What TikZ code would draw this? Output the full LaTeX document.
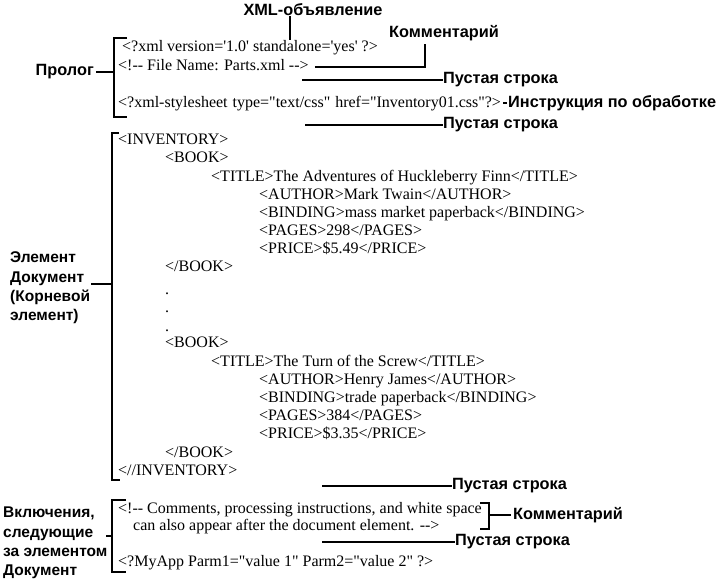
\documentclass[tikz,border=0pt]{standalone}
\usepackage{fontspec}
\setmainfont{Liberation Sans}
\newfontfamily\xmlfont{Liberation Serif}[Ligatures=TeXOff]
\usepackage{tikz}

\begin{document}
\begin{tikzpicture}[x=1pt, y=-1pt,
  code/.style={anchor=west, inner sep=0pt, font=\xmlfont\fontsize{16}{18}\selectfont, text height=11pt, text depth=3pt},
  dotrow/.style={code, text height=2pt, text depth=0pt},
  lbl/.style={anchor=west, inner sep=0pt, font=\bfseries\fontsize{16.3}{19.3}\selectfont, align=left},
  sidelbl/.style={lbl, font=\bfseries\fontsize{15.5}{19.3}\selectfont},
  brk/.style={line width=1.7pt},
  lead/.style={line width=1.7pt}]
  \useasboundingbox (0,0) rectangle (722,583);

  % prolog
  \node[code] (decl) at (122,48) {<?xml version='1.0' standalone='yes' ?>};
  \node[code] (cmnt) at (118,67) {<!-- File Name: Parts.xml -->};
  \node[code] (pi) at (118,103) {<?xml-stylesheet\hspace{5pt}type="text/css"\hspace{5pt}href="Inventory01.css"?>};
  \coordinate (prtop) at (114,38);
  \coordinate (prbot) at (114,117);
  \draw[brk] ([xshift=13pt]prtop) -- (prtop) -- (prbot) -- ([xshift=13pt]prbot);
  \node[sidelbl, anchor=east, font=\bfseries\fontsize{16.3}{19.3}\selectfont] (prolog) at (94,72) {Пролог};
  \draw[lead] ([xshift=2pt]prolog.east) -- (prolog.east -| prtop);

  % callouts on the prolog
  \node[lbl, anchor=center] (xmldecl) at (313,10) {XML-объявление};
  \coordinate (declpt) at (290,40);
  \draw[lead] (declpt |- xmldecl.south) -- (declpt);
  \node[lbl] (cmntlbl) at (389,33) {Комментарий};
  \coordinate (cmntbend) at (425,44);
  \draw[lead] ([xshift=6pt]cmnt.east) -| (cmntbend);
  \node[lbl] (blank1lbl) at (443,80) {Пустая строка};
  \coordinate (blank1) at (302,80);
  \draw[lead] (blank1) -- (blank1lbl.west);
  \node[lbl] (pilbl) at (508,103) {Инструкция по обработке};
  \draw[lead] ([xshift=2pt]pi.east) -- ([xshift=-1pt]pilbl.west);
  \node[lbl] (blank2lbl) at (443,125) {Пустая строка};
  \coordinate (blank2) at (305,125);
  \draw[lead] (blank2) -- (blank2lbl.west);

  % document element
  \node[code] (inv) at (118,140) {<INVENTORY>};
  \node[code] (book1) at (165,158) {<BOOK>};
  \node[code] (title1) at (211,177) {<TITLE>The Adventures of Huckleberry Finn</TITLE>};
  \node[code] (author1) at (259,195) {<AUTHOR>Mark Twain</AUTHOR>};
  \node[code] (binding1) at (259,213) {<BINDING>mass market paperback</BINDING>};
  \node[code] (pages1) at (259,231) {<PAGES>298</PAGES>};
  \node[code] (price1) at (259,249) {<PRICE>\$5.49</PRICE>};
  \node[code] (book1end) at (165,267) {</BOOK>};
  \foreach \y [count=\i] in {293,311,330}
    \node[dotrow] (dot\i) at (165,\y) {.};
  \node[code] (book2) at (165,343) {<BOOK>};
  \node[code] (title2) at (211,362) {<TITLE>The Turn of the Screw</TITLE>};
  \node[code] (author2) at (259,380) {<AUTHOR>Henry James</AUTHOR>};
  \node[code] (binding2) at (259,398) {<BINDING>trade paperback</BINDING>};
  \node[code] (pages2) at (259,416) {<PAGES>384</PAGES>};
  \node[code] (price2) at (259,434) {<PRICE>\$3.35</PRICE>};
  \node[code] (book2end) at (165,453) {</BOOK>};
  \node[code] (invend) at (118,471) {<//INVENTORY>};
  \coordinate (doctop) at (112,133);
  \coordinate (docbot) at (112,480);
  \draw[brk] ([xshift=7pt]doctop) -- (doctop) -- (docbot) -- ([xshift=8pt]docbot);
  \node[sidelbl] (docroot) at (10,288) {Элемент\\Документ\\(Корневой\\элемент)};
  \coordinate (doctick) at (91,284);
  \draw[lead] (doctick) -- (doctick -| doctop);

  % after the document element
  \node[lbl] (blank3lbl) at (452,486) {Пустая строка};
  \coordinate (blank3) at (322,486);
  \draw[lead] (blank3) -- (blank3lbl.west);
  \node[code] (cmt2a) at (118,509) {<!-- Comments, processing instructions, and white space};
  \node[code] (cmt2b) at (133,526) {can also appear after the document element. -->};
  \coordinate (c2top) at (489,503);
  \coordinate (c2bot) at (489,529);
  \draw[brk] ([xshift=-9pt]c2top) -- (c2top) -- (c2bot) -- ([xshift=-9pt]c2bot);
  \node[lbl] (c2lbl) at (513,515) {Комментарий};
  \draw[lead] (c2top |- c2lbl.west) -- ([xshift=-2pt]c2lbl.west);
  \node[lbl] (blank4lbl) at (455,542) {Пустая строка};
  \coordinate (blank4) at (322,542);
  \draw[lead] (blank4) -- (blank4lbl.west);
  \node[code] (myapp) at (118,562) {<?MyApp Parm1="value 1" Parm2="value 2" ?>};
  \coordinate (incltop) at (112,500);
  \coordinate (inclbot) at (112,572);
  \draw[brk] ([xshift=14pt]incltop) -- (incltop) -- (inclbot) -- ([xshift=14pt]inclbot);
  \node[sidelbl] (incl) at (3,543) {Включения,\\следующие\\за элементом\\Документ};
  \coordinate (incltick) at (112,536);
  \draw[lead] ([xshift=-6pt]incltick) -- (incltick);
\end{tikzpicture}
\end{document}
